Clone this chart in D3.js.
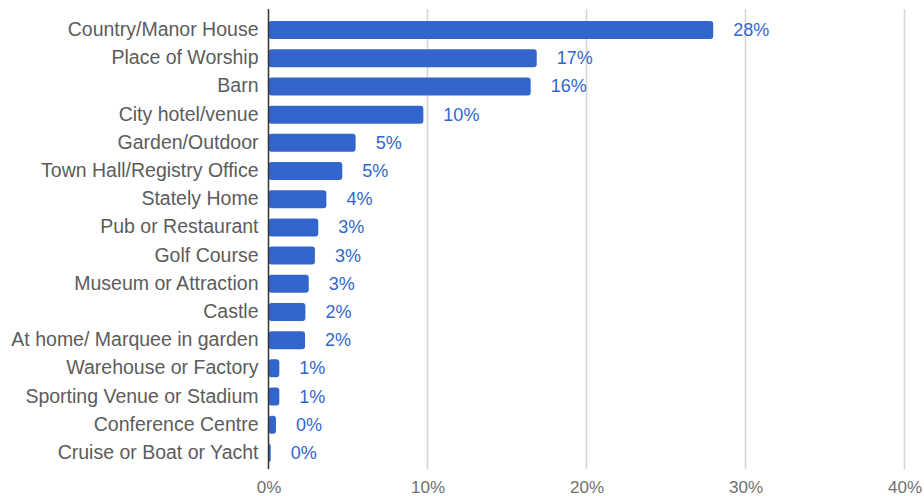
<!DOCTYPE html>
<html>
<head>
<meta charset="utf-8">
<script src="https://cdn.jsdelivr.net/npm/d3@7"></script>
<style>
  html, body { margin: 0; padding: 0; background: #fff; }
  svg { display: block; font-family: "Liberation Sans", Arial, Helvetica, sans-serif; }
</style>
</head>
<body>
<svg id="chart" width="924" height="496"></svg>
<script>
// Wedding venue types, share of respondents
const venues = [
  "Country/Manor House", "Place of Worship", "Barn", "City hotel/venue",
  "Garden/Outdoor", "Town Hall/Registry Office", "Stately Home",
  "Pub or Restaurant", "Golf Course", "Museum or Attraction", "Castle",
  "At home/ Marquee in garden", "Warehouse or Factory",
  "Sporting Venue or Stadium", "Conference Centre", "Cruise or Boat or Yacht"
];
const shares = [
  0.2797, 0.1687, 0.1649, 0.0974, 0.0548, 0.0464, 0.0364, 0.0313,
  0.0292, 0.0253, 0.0232, 0.0230, 0.0068, 0.0068, 0.0047, 0.0014
];
const xTicks = [0, 0.1, 0.2, 0.3, 0.4];

const svg = d3.select("#chart");
const fmt = d3.format(".0%");
const blue = "#3366cc";

const x = d3.scaleLinear().domain([0, 0.4]).range([268.5, 904.5]);
const y = d3.scaleBand().domain(venues).range([16, 467]).paddingInner(0.36).paddingOuter(0.18);

const plotTop = 9, plotBottom = 469;

// vertical gridlines
svg.append("g")
  .selectAll("line")
  .data(xTicks.filter(t => t > 0))
  .join("line")
  .attr("x1", d => x(d)).attr("x2", d => x(d))
  .attr("y1", plotTop).attr("y2", plotBottom)
  .attr("stroke", "#d6d6d6")
  .attr("stroke-width", 1.6);

// bars
svg.append("g")
  .selectAll("rect")
  .data(shares)
  .join("rect")
  .attr("x", x(0))
  .attr("y", (d, i) => y(venues[i]))
  .attr("width", d => Math.max(x(d) - x(0), 2))
  .attr("height", y.bandwidth())
  .attr("rx", 3)
  .attr("fill", blue);

// value labels
svg.append("g")
  .selectAll("text")
  .data(shares)
  .join("text")
  .attr("x", d => x(d) + 20)
  .attr("y", (d, i) => y(venues[i]) + y.bandwidth() / 2 + 6)
  .attr("fill", blue)
  .attr("font-size", 18)
  .text(d => fmt(d));

// category axis
const yAxis = svg.append("g")
  .attr("transform", `translate(${x(0)},0)`)
  .call(d3.axisLeft(y).tickSize(0).tickPadding(10));
yAxis.select(".domain").remove();
yAxis.selectAll("text")
  .attr("font-size", 19.5)
  .attr("font-family", null)
  .attr("fill", "#5c5c5c")
  .attr("dy", null)
  .attr("y", 6);

// baseline at zero
svg.append("line")
  .attr("x1", x(0)).attr("x2", x(0))
  .attr("y1", plotTop).attr("y2", plotBottom)
  .attr("stroke", "#333")
  .attr("stroke-width", 1.5);

// percentage axis
const xAxis = svg.append("g")
  .attr("transform", `translate(0,${plotBottom})`)
  .call(d3.axisBottom(x).tickValues(xTicks).tickFormat(fmt).tickSize(0).tickPadding(0));
xAxis.select(".domain").remove();
xAxis.selectAll("text")
  .attr("font-size", 17)
  .attr("font-family", null)
  .attr("fill", "#707070")
  .attr("dy", null)
  .attr("y", 24);
</script>
</body>
</html>
